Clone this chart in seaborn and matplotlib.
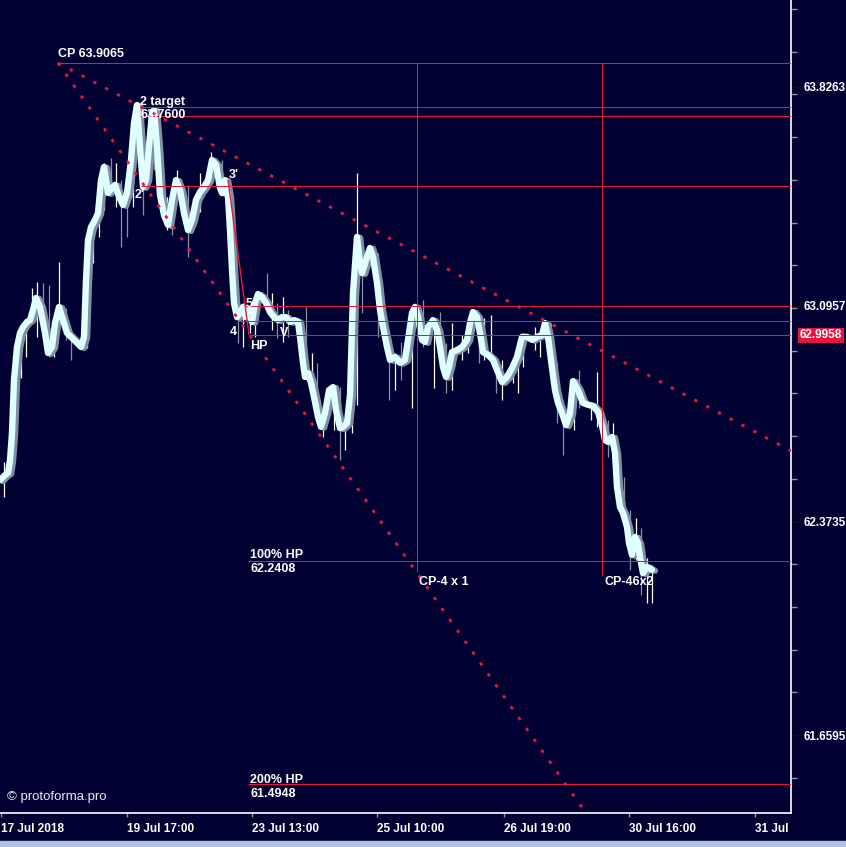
import numpy as np
import pandas as pd
import matplotlib
matplotlib.use("Agg")
import matplotlib.pyplot as plt
import matplotlib.patheffects as pe
from matplotlib.ticker import AutoMinorLocator
import seaborn as sns

# time axis in M15 steps from the left edge of the chart
t = [0, 3, 5, 8, 10, 12, 14, 17, 20, 23, 27, 30, 33, 36, 40, 45, 48, 52, 55, 59,
     63, 67, 72, 77, 81, 84, 86, 88, 91, 95, 98, 101, 104, 108, 112, 115, 119, 123, 127, 131,
     134, 137, 140, 143, 146, 149, 152, 154, 157, 160, 164, 168, 172, 176, 180, 184, 188, 192, 196, 200,
     204, 208, 212, 216, 220, 222, 225, 228, 230, 232, 234, 237, 240, 243, 246, 249, 252, 255, 258, 262,
     266, 270, 274, 278, 282, 286, 290, 294, 298, 300, 303, 305, 308, 311, 314, 318, 321, 325, 329, 333,
     336, 340, 343, 347, 350, 353, 357, 360, 362, 367, 370, 373, 377, 380, 383, 387, 390, 395, 400, 405,
     408, 412, 415, 418, 422, 425, 428, 433, 437, 440, 443, 446, 449, 452, 457, 462, 467, 470, 473, 477,
     480, 483, 488, 493, 497, 502, 507, 512, 517, 522, 527, 532, 537, 542, 545, 548, 552, 555, 558, 562,
     566, 570, 573, 578, 583, 588, 593, 598, 602, 605, 608, 612, 615, 617, 620, 623, 627, 629, 632, 635,
     638, 640, 643, 647, 652]
close = [62.512, 62.522, 62.529, 62.536, 62.579, 62.670, 62.847, 62.957, 63.004, 63.024, 63.041, 63.047, 63.081, 63.121, 63.091, 63.004, 62.937, 62.957, 63.037, 63.091,
         63.047, 63.004, 62.987, 62.971, 62.957, 62.991, 63.181, 63.315, 63.358, 63.382, 63.405, 63.515, 63.559, 63.472, 63.489, 63.499, 63.459, 63.432, 63.472, 63.582,
         63.706, 63.766, 63.626, 63.492, 63.515, 63.626, 63.739, 63.749, 63.626, 63.465, 63.398, 63.365, 63.449, 63.515, 63.482, 63.405, 63.348, 63.382, 63.449, 63.475,
         63.492, 63.515, 63.582, 63.566, 63.489, 63.472, 63.515, 63.459, 63.348, 63.215, 63.104, 63.057, 63.071, 63.091, 63.057, 63.081, 63.041, 63.104, 63.134, 63.124,
         63.104, 63.074, 63.057, 63.047, 63.057, 63.057, 63.041, 63.047, 63.041, 62.991, 62.904, 62.857, 62.870, 62.837, 62.790, 62.723, 62.690, 62.736, 62.813, 62.823,
         62.746, 62.686, 62.690, 62.703, 62.797, 63.138, 63.325, 63.238, 63.204, 63.258, 63.288, 63.258, 63.171, 63.081, 63.024, 62.957, 62.914, 62.924, 62.904, 62.914,
         62.981, 63.071, 63.091, 63.057, 62.981, 62.974, 63.024, 63.047, 63.014, 62.957, 62.890, 62.857, 62.890, 62.940, 62.947, 62.957, 62.981, 63.037, 63.074, 63.057,
         63.004, 62.940, 62.930, 62.914, 62.880, 62.840, 62.857, 62.887, 62.924, 62.991, 62.991, 62.981, 62.991, 62.997, 63.037, 62.991, 62.887, 62.813, 62.770, 62.736,
         62.696, 62.736, 62.843, 62.813, 62.770, 62.764, 62.760, 62.740, 62.694, 62.646, 62.640, 62.656, 62.603, 62.489, 62.422, 62.402, 62.355, 62.302, 62.262, 62.322,
         62.302, 62.255, 62.201, 62.222, 62.212]

# high/low wicks
wick_t = [4, 21, 26, 32, 37, 43, 49, 54, 59, 66, 71, 87, 93, 99, 104, 111, 116, 121, 127, 133,
          143, 154, 162, 167, 172, 177, 188, 193, 200, 211, 222, 238, 243, 250, 255, 267, 272, 277, 283, 288,
          306, 312, 317, 323, 334, 340, 345, 352, 357, 362, 378, 384, 389, 395, 401, 412, 423, 434, 440, 446,
          452, 462, 468, 479, 484, 491, 496, 502, 513, 518, 523, 535, 540, 551, 557, 563, 574, 579, 591, 597,
          608, 613, 624, 630, 636, 641, 647, 652]
wick_high = [62.573, 62.970, 63.024, 63.154, 63.174, 63.171, 63.164, 63.014, 63.241, 63.088, 63.004, 63.024, 63.358, 63.405, 63.572, 63.589, 63.572, 63.515, 63.482, 63.582,
             63.515, 63.659, 63.606, 63.459, 63.442, 63.549, 63.499, 63.439, 63.539, 63.609, 63.582, 63.148, 63.104, 63.057, 63.108, 63.204, 63.138, 63.104, 63.124, 63.081,
             63.091, 62.937, 62.904, 62.723, 62.813, 62.823, 62.713, 62.790, 63.539, 63.291, 63.271, 63.091, 62.991, 62.937, 62.974, 63.081, 63.114, 63.041, 63.074, 62.970,
             63.037, 62.997, 63.057, 63.074, 63.054, 63.064, 62.924, 62.914, 62.914, 62.957, 63.004, 63.024, 63.014, 63.037, 62.904, 62.780, 62.854, 62.880, 62.770, 62.874,
             62.713, 62.703, 62.523, 62.412, 62.385, 62.352, 62.252, 62.228]
wick_low = [62.456, 62.853, 62.924, 63.047, 62.991, 63.047, 62.924, 62.924, 63.024, 62.980, 62.914, 62.954, 63.238, 63.325, 63.415, 63.492, 63.425, 63.291, 63.325, 63.425,
            63.398, 63.549, 63.408, 63.348, 63.332, 63.459, 63.258, 63.348, 63.408, 63.559, 63.465, 62.970, 62.957, 63.004, 62.991, 63.091, 63.014, 62.987, 62.974, 62.991,
            62.924, 62.790, 62.813, 62.656, 62.680, 62.579, 62.613, 62.670, 62.763, 63.071, 62.991, 62.957, 62.780, 62.813, 62.847, 62.753, 62.957, 62.820, 62.957, 62.803,
            62.813, 62.914, 62.937, 62.904, 62.914, 62.914, 62.803, 62.780, 62.837, 62.803, 62.890, 62.947, 62.924, 62.957, 62.703, 62.596, 62.680, 62.753, 62.713, 62.690,
            62.589, 62.636, 62.422, 62.212, 62.245, 62.128, 62.101, 62.101]
wick_down = [0, 0, 0, 0, 0, 1, 1, 0, 0, 1, 1, 0, 0, 0, 0, 1, 0, 1, 1, 0,
             1, 1, 1, 0, 1, 0, 1, 0, 0, 0, 1, 1, 0, 0, 0, 1, 0, 1, 0, 1,
             1, 0, 1, 0, 0, 1, 0, 0, 0, 1, 1, 1, 1, 0, 1, 0, 1, 0, 1, 1,
             0, 0, 0, 1, 0, 0, 1, 0, 0, 0, 0, 0, 0, 1, 1, 1, 0, 1, 0, 0,
             1, 0, 1, 1, 0, 1, 0, 0]

# horizontal levels: price, start t
level_price = [63.9065, 63.7600, 63.729, 63.495, 63.0957, 63.044, 62.9958, 62.2408, 61.4948]
level_start = [58, 140, 140, 141, 245, 237, 249, 248, 248]

# vertical markers: t, top price, bottom price
vmark_t = [417, 602]
vmark_top = [63.9065, 63.9065]
vmark_bottom = [62.205, 62.195]

# fan lines from CP
fan_upper_t, fan_upper_p = [58, 791], [63.9065, 62.610]
fan_lower_t, fan_lower_p = [58, 586], [63.9065, 61.399]
leg_t, leg_p = [228, 249], [63.515, 62.999]

# annotations: text, t, price, vertical alignment
notes = [("CP 63.9065", 58, 63.9155, "bottom"),
         ("2 target", 140, 63.756, "bottom"),
         ("63.7600", 140, 63.752, "top"),
         ("2'", 135, 63.466, "center"),
         ("3'", 229, 63.532, "center"),
         ("5", 246, 63.102, "center"),
         ("4", 230, 63.008, "center"),
         ("HP", 250, 62.961, "center"),
         ("V", 280, 63.005, "center"),
         ("100% HP", 250, 62.243, "bottom"),
         ("62.2408", 250, 62.234, "top"),
         ("CP-4 x 1", 419, 62.171, "center"),
         ("CP-46x2", 604, 62.171, "center"),
         ("200% HP", 250, 61.488, "bottom"),
         ("61.4948", 250, 61.482, "top")]

price_ticks = [63.8263, 63.0957, 62.3735, 61.6595]
date_ticks = [1, 127, 252, 377, 504, 629, 755]
date_labels = ["17 Jul 2018", "19 Jul 17:00", "23 Jul 13:00", "25 Jul 10:00",
               "26 Jul 19:00", "30 Jul 16:00", "31 Jul"]

BG = "#000032"
RED = "#e8163e"
LINE = "#e0ffff"
SHADOW = "#7f8fa6"
GRAY = "#8a93a6"

sns.set_theme(style="dark")
plt.rcParams["font.family"] = ["Liberation Sans", "DejaVu Sans"]

fig = plt.figure(figsize=(8.46, 8.47), dpi=100)
fig.patch.set_facecolor(BG)
ax = fig.add_axes([0, 34 / 847, 791 / 846, 813 / 847])
ax.set_facecolor(BG)
ax.grid(False)

# wicks
wt = np.array(wick_t)
wh = np.array(wick_high)
wl = np.array(wick_low)
down = np.array(wick_down, dtype=bool)
ax.vlines(wt[~down], wl[~down], wh[~down], colors="white", lw=0.9, zorder=2)
ax.vlines(wt[down], wl[down], wh[down], colors=GRAY, lw=0.9, zorder=2)

# price line with grey shadow
df = pd.DataFrame({"t": t, "close": close})
sns.lineplot(data=df, x="t", y="close", color=LINE, lw=4.6, sort=False,
             estimator=None, ax=ax, zorder=3,
             path_effects=[pe.SimpleLineShadow(offset=(2.2, -0.6), shadow_color=SHADOW, alpha=1.0),
                           pe.Normal()])
for line in ax.lines:
    line.set_solid_joinstyle("round")
    line.set_solid_capstyle("round")

# levels
for p, s in zip(level_price, level_start):
    ax.hlines(p, s, 791, colors=RED, lw=0.72, snap=True, zorder=4)
ax.vlines(vmark_t, vmark_bottom, vmark_top, colors=RED, lw=0.72, snap=True, zorder=4)

# fan and leg
ax.plot(fan_upper_t, fan_upper_p, color=RED, lw=2.0, ls=(0, (1.2, 3.6)), zorder=4)
ax.plot(fan_lower_t, fan_lower_p, color=RED, lw=2.0, ls=(0, (1.2, 3.6)), zorder=4)
ax.plot(leg_t, leg_p, color=RED, lw=1.0, zorder=4)

for txt, x, y, va in notes:
    ax.text(x, y, txt, color="white", fontsize=9, fontweight="bold", ha="left", va=va, zorder=6)

ax.text(7, 61.453, "\u00a9 protoforma.pro", color="#e8e8f0", fontsize=9.5, ha="left", va="center", zorder=6)

ax.set_xlim(0, 791)
ax.set_ylim(61.3993, 64.1171)
ax.set_xlabel("")
ax.set_ylabel("")

for side in ["top", "left"]:
    ax.spines[side].set_visible(False)
for side in ["right", "bottom"]:
    ax.spines[side].set_color("white")
    ax.spines[side].set_linewidth(1.2)

ax.yaxis.tick_right()
ax.set_yticks(price_ticks)
ax.set_yticklabels([f"{v:.4f}" for v in price_ticks])
ax.yaxis.set_minor_locator(AutoMinorLocator(5))
ax.tick_params(axis="y", which="major", colors="white", length=7, width=1, pad=2,
               labelsize=8.5, right=True, left=False)
ax.tick_params(axis="y", which="minor", colors=GRAY, length=4, width=1, right=True, left=False)
for lab in ax.get_yticklabels():
    lab.set_fontweight("bold")
ax.tick_params(axis="y", which="major", color="#101018")

ax.set_xticks(date_ticks)
ax.set_xticklabels(date_labels)
ax.tick_params(axis="x", colors="white", length=3, width=1, pad=4, labelsize=8.5, bottom=True)
ax.tick_params(axis="x", color=GRAY)
for lab in ax.get_xticklabels():
    lab.set_fontweight("bold")
    lab.set_horizontalalignment("left")

# current price tag
ax.text(1.011, 62.9958, "62.9958", transform=ax.get_yaxis_transform(), color="white",
        fontsize=8.5, fontweight="bold", ha="left", va="center", zorder=7, clip_on=False,
        bbox=dict(boxstyle="square,pad=0.15", fc=RED, ec="none"))

# bottom status strip
fig.add_artist(plt.Rectangle((0, 0), 1, 6 / 847, transform=fig.transFigure,
                             color="#b0c4de", zorder=10))

fig.savefig("out.png", dpi=100, facecolor=BG)
